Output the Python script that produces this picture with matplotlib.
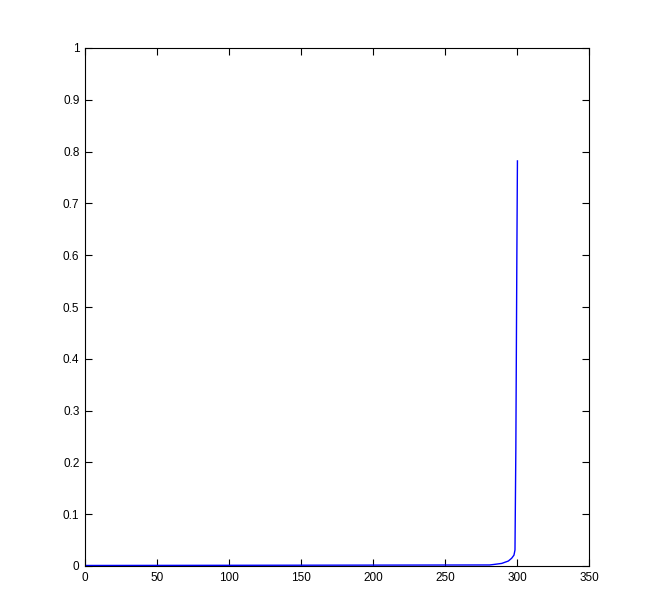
import matplotlib
matplotlib.use("Agg")
import matplotlib.pyplot as plt

x_vals = [1, 281, 284, 289.4, 294, 296.3, 297.9, 298.6, 299.2, 299.9, 300.3]
y_vals = [0.001, 0.002, 0.003, 0.005, 0.0096, 0.015, 0.021, 0.031, 0.227, 0.598, 0.782]

x_ticks = [0, 50, 100, 150, 200, 250, 300, 350]
y_ticks = [0, 0.1, 0.2, 0.3, 0.4, 0.5, 0.6, 0.7, 0.8, 0.9, 1]
y_labels = ["0", "0.1", "0.2", "0.3", "0.4", "0.5", "0.6", "0.7", "0.8", "0.9", "1"]

fig = plt.figure(figsize=(6.51, 6.06), dpi=100)
ax = fig.add_axes([85/651, 1-566/606, (589-85)/651, (566-48)/606])
ax.plot(x_vals, y_vals, color="#0000ff", lw=1.0)
ax.set_xlim(0, 350)
ax.set_ylim(0, 1)
ax.set_xticks(x_ticks)
ax.set_xticklabels([str(t) for t in x_ticks])
ax.set_yticks(y_ticks)
ax.set_yticklabels(y_labels)
ax.tick_params(direction="in", length=5, width=0.8, top=True, right=True,
               labelsize=8.5, colors="black", pad=4)
for s in ax.spines.values():
    s.set_linewidth(0.8)
for lab in ax.get_xticklabels() + ax.get_yticklabels():
    lab.set_family("Liberation Sans")
fig.savefig("out.png", dpi=100, facecolor="white")
